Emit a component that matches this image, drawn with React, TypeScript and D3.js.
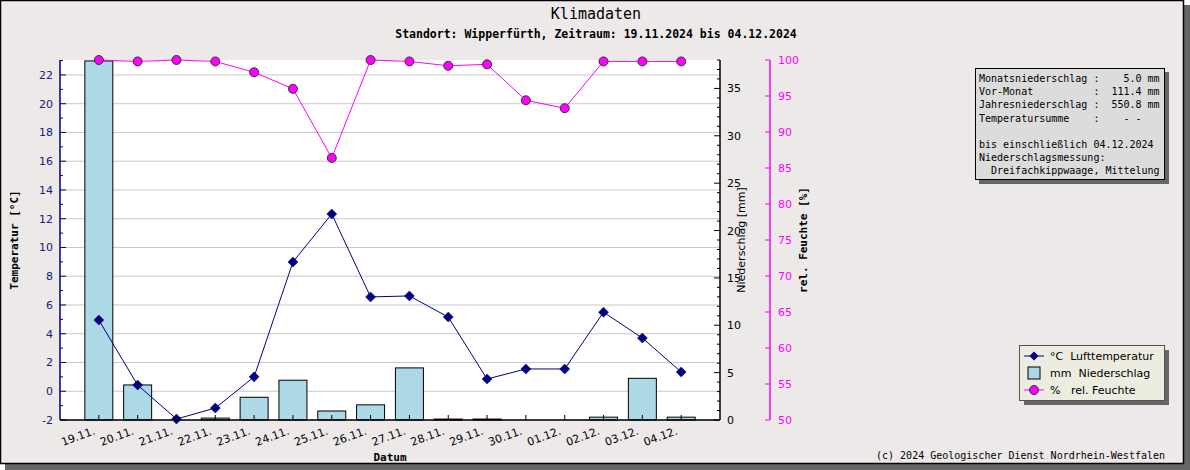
import React from "react";
import * as d3 from "d3";

const dates = ["19.11.", "20.11.", "21.11.", "22.11.", "23.11.", "24.11.", "25.11.", "26.11.", "27.11.", "28.11.", "29.11.", "30.11.", "01.12.", "02.12.", "03.12.", "04.12."];
const temperature = [4.95, 0.43, -1.93, -1.17, 1.0, 8.99, 12.33, 6.56, 6.63, 5.16, 0.85, 1.55, 1.55, 5.5, 3.7, 1.34];
const precipitation = [37.9, 3.7, 0, 0.2, 2.4, 4.2, 0.95, 1.6, 5.5, 0.1, 0.1, 0, 0, 0.3, 4.4, 0.3];
const humidity = [100, 99.8, 100, 99.8, 98.3, 96.0, 86.4, 100, 99.8, 99.2, 99.4, 94.4, 93.3, 99.8, 99.8, 99.8];
const tempTicks = [-2, 0, 2, 4, 6, 8, 10, 12, 14, 16, 18, 20, 22];
const precTicks = [0, 5, 10, 15, 20, 25, 30, 35];
const humTicks = [50, 55, 60, 65, 70, 75, 80, 85, 90, 95, 100];
const infoLines = [
  "Monatsniederschlag :    5.0 mm",
  "Vor-Monat          :  111.4 mm",
  "Jahresniederschlag :  550.8 mm",
  "Temperatursumme    :    - -",
  "",
  "bis einschließlich 04.12.2024",
  "Niederschlagsmessung:",
  "  Dreifachkippwaage, Mittelung",
];
const legendItems = [
  "°C  Lufttemperatur",
  "mm  Niederschlag",
  "%   rel. Feuchte",
];

const W = 1190, H = 470;
const L = 60, R = 720, T = 60, B = 420;
const BG = "#ECE9E8";
const NAVY = "#000080";
const MAG = "#FF00FF";
const MONO = "'DejaVu Sans Mono', monospace";
const SANS = "'DejaVu Sans', sans-serif";

export default function App() {
  const step = (R - L) / (dates.length + 1);
  const x = d3.scalePoint<string>().domain(dates).range([L + step, R - step]);
  const yT = d3.scaleLinear().domain([-2, 23.04]).range([B, T]);
  const yP = d3.scaleLinear().domain([0, 38]).range([B, T]);
  const yH = d3.scaleLinear().domain([50, 100]).range([B, T]);
  const barW = 28;

  const tLine = d3.line<number>().x((_, i) => x(dates[i])!).y((d) => yT(d));
  const hLine = d3.line<number>().x((_, i) => x(dates[i])!).y((d) => yH(d));

  const tMinor = d3.range(-2, 23.5, 1);
  const pMinor = d3.range(0, 38.5, 1);
  const HX = 770;

  const diamond = (cx: number, cy: number, s = 5) =>
    `M${cx},${cy - s}L${cx + s},${cy}L${cx},${cy + s}L${cx - s},${cy}Z`;

  return (
    <svg width={W} height={H} style={{ position: "absolute", left: 0, top: 0 }}>
      {/* shadow + frame */}
      <rect x={5} y={5} width={W - 5} height={H - 5} fill="#666" />
      <rect x={0.5} y={0.5} width={W - 7} height={H - 7} fill={BG} stroke="#000" strokeWidth={1.5} />

      {/* titles */}
      <text x={596} y={19} textAnchor="middle" fontFamily={MONO} fontSize={15}>Klimadaten</text>
      <text x={596} y={38} textAnchor="middle" fontFamily={MONO} fontSize={11.5} fontWeight="bold">Standort: Wipperfürth, Zeitraum: 19.11.2024 bis 04.12.2024</text>

      {/* plot area */}
      <rect x={L} y={T} width={R - L} height={B - T} fill="#fff" />
      {tempTicks.map((t) => (
        <line key={"g" + t} x1={L} x2={R} y1={yT(t)} y2={yT(t)} stroke="#c8c8c8" strokeWidth={1} />
      ))}

      {/* bars */}
      {precipitation.map((p, i) => (
        <rect key={"b" + i} x={x(dates[i])! - barW / 2} y={yP(p)} width={barW} height={B - yP(p)} fill="#ADD8E6" stroke="#000" strokeWidth={1} />
      ))}

      {/* x ticks */}
      {dates.map((d) => (
        <line key={"xt" + d} x1={x(d)} x2={x(d)} y1={B} y2={B - 5} stroke="#000" />
      ))}

      {/* humidity line */}
      <path d={hLine(humidity)!} fill="none" stroke={MAG} strokeWidth={1} />
      {humidity.map((h, i) => (
        <circle key={"h" + i} cx={x(dates[i])} cy={yH(h)} r={4.5} fill={MAG} stroke="#333" strokeWidth={1} />
      ))}

      {/* temperature line */}
      <path d={tLine(temperature)!} fill="none" stroke={NAVY} strokeWidth={1} />
      {temperature.map((t, i) => (
        <path key={"t" + i} d={diamond(x(dates[i])!, yT(t))} fill={NAVY} stroke={NAVY} strokeWidth={0.5} />
      ))}

      {/* left axis */}
      <line x1={L} x2={L} y1={T} y2={B} stroke={NAVY} strokeWidth={1.5} />
      {tMinor.map((t) => (
        <line key={"tm" + t} x1={L} x2={L + (t % 2 === 0 ? 6 : 3)} y1={yT(t)} y2={yT(t)} stroke={NAVY} />
      ))}
      {tempTicks.map((t) => (
        <text key={"tl" + t} x={53} y={yT(t) + 4} textAnchor="end" fontFamily={SANS} fontSize={11} fill="#202070">{t}</text>
      ))}
      <text transform={`translate(18,240) rotate(-90)`} textAnchor="middle" fontFamily={MONO} fontSize={11} fontWeight="bold">Temperatur [°C]</text>

      {/* bottom axis */}
      <line x1={L} x2={R} y1={B} y2={B} stroke="#000" strokeWidth={1.5} />
      {dates.map((d) => (
        <text key={"xl" + d} transform={`translate(${x(d)! - 3},${B + 14}) rotate(-20)`} textAnchor="end" fontFamily={SANS} fontSize={11}>{d}</text>
      ))}
      <text x={390} y={461} textAnchor="middle" fontFamily={MONO} fontSize={11} fontWeight="bold">Datum</text>

      {/* right precipitation axis */}
      <line x1={R} x2={R} y1={T} y2={B} stroke="#000" strokeWidth={1.5} />
      {pMinor.map((p) => (
        <line key={"pm" + p} x1={R} x2={R - (p % 5 === 0 ? 6 : 3)} y1={yP(p)} y2={yP(p)} stroke="#000" />
      ))}
      {precTicks.map((p) => (
        <text key={"pl" + p} x={727} y={yP(p) + 4} fontFamily={SANS} fontSize={11}>{p}</text>
      ))}
      <text transform={`translate(745,240) rotate(-90)`} textAnchor="middle" fontFamily={SANS} fontSize={11}>Niederschlag [mm]</text>

      {/* humidity axis */}
      <line x1={HX} x2={HX} y1={T} y2={B} stroke={MAG} strokeWidth={1.5} />
      {humTicks.map((h) => (
        <line key={"hm" + h} x1={HX} x2={HX - 5} y1={yH(h)} y2={yH(h)} stroke={MAG} />
      ))}
      {humTicks.map((h) => (
        <text key={"hl" + h} x={778} y={yH(h) + 4} fontFamily={SANS} fontSize={11} fill={MAG}>{h}</text>
      ))}
      <text transform={`translate(807,240) rotate(-90)`} textAnchor="middle" fontFamily={MONO} fontSize={11} fontWeight="bold">rel. Feuchte [%]</text>

      {/* info box */}
      <rect x={979} y={72} width={190} height={112} fill="#666" />
      <rect x={975.5} y={68.5} width={189} height={111} fill="#DCDCDC" stroke="#000" />
      {infoLines.map((l, i) => (
        <text key={"il" + i} x={979} y={82 + i * 13.2} fontFamily={MONO} fontSize={10} style={{ whiteSpace: "pre" }}>{l}</text>
      ))}

      {/* legend */}
      <rect x={1024} y={350} width={145} height={55} fill="#666" />
      <rect x={1019.5} y={345.5} width={145} height={55} fill="#ECECE0" stroke="#555" />
      {legendItems.map((it, i) => {
        const cy = 356 + i * 17;
        return (
          <g key={"lg" + i}>
            {i === 0 && (
              <>
                <line x1={1024} x2={1044} y1={cy} y2={cy} stroke={NAVY} />
                <path d={diamond(1034, cy, 4.5)} fill={NAVY} />
              </>
            )}
            {i === 1 && <rect x={1028} y={cy - 6} width={12} height={12} fill="#ADD8E6" stroke="#000" />}
            {i === 2 && (
              <>
                <line x1={1024} x2={1044} y1={cy} y2={cy} stroke={MAG} />
                <circle cx={1034} cy={cy} r={4.5} fill={MAG} stroke="#333" />
              </>
            )}
            <text x={1050} y={cy + 4} fontFamily={SANS} fontSize={11} style={{ whiteSpace: "pre" }}>{it}</text>
          </g>
        );
      })}

      {/* copyright */}
      <text x={1165} y={459} textAnchor="end" fontFamily={MONO} fontSize={10} style={{ whiteSpace: "pre" }}>(c) 2024 Geologischer Dienst Nordrhein-Westfalen</text>
    </svg>
  );
}
